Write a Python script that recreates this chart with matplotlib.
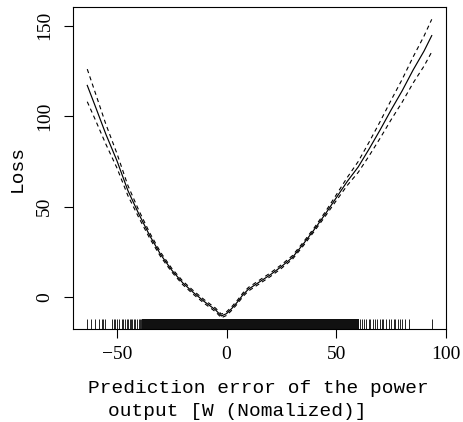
import numpy as np
import matplotlib
matplotlib.use("Agg")
import matplotlib.pyplot as plt

# -------------------------------------------------------------------
# smooth term: fit and half band width (2 se)
# -------------------------------------------------------------------
err = [-63.5, -60, -55, -50, -45, -40, -35, -30, -25, -20, -15, -10, -5, -2.4,
       0, 2.5, 5, 7.5, 10, 15, 20, 25, 30, 35, 40, 45, 50, 55, 60, 65, 70,
       75, 80, 85, 90, 93.5]
fit = [117, 106, 90, 75.5, 59, 46, 34, 23.5, 15, 8, 2.5, -2.5, -7, -10.3,
       -9, -6, -2.5, 1.5, 4.5, 8.5, 12.5, 17, 22, 29.5, 37.5, 46, 55, 64,
       72, 82, 92.5, 103.5, 114, 125.5, 136, 144.5]
band = [9, 7.5, 5.5, 4, 2.8, 2, 1.5, 1.2, 1.0, 1.0, 1.0, 1.0, 1.0, 1.0,
        1.0, 1.0, 1.0, 1.0, 1.0, 1.0, 1.0, 1.0, 1.0, 1.0, 1.0, 1.2, 1.6, 2.2,
        3, 3.8, 4.6, 5.4, 6.3, 7.2, 8.3, 9.0]

# rug: single ticks in the tails, solid block where the data is dense
rug_sparse = [-63.6, -61.8, -60, -58.1, -57, -56.1, -55.5, -52.4, -51.5, -50.9,
              -50, -49, -47.8, -47.1, -46.5, -45.6, -45.0, -44.2, -43.7, -42.9,
              -42.1, -41.6, -40.8, -40.1, -39.5, -38.8,
              60.9, 61.7, 62.7, 63.6, 64.7, 65.5, 66.7, 67.7, 68.5, 69.7, 70.8,
              71.5, 72.7, 73.8, 74.8, 76.1, 76.8, 77.9, 79.1, 80, 81.4, 83.3, 93.5]
rug_dense = (-38.6, 60.3)

xticks = [-50, 0, 50, 100]
yticks = [0, 50, 100, 150]

err = np.array(err)
fit = np.array(fit)
band = np.array(band)

plt.rcParams['lines.scale_dashes'] = False

fig = plt.figure(figsize=(4.64, 4.22), dpi=100)
ax = fig.add_axes([73 / 464, 1 - 329 / 422, 373 / 464, 322 / 422])

ax.plot(err, fit, color='black', linewidth=0.85)
ax.plot(err, fit + band, color='black', linewidth=0.8, dashes=(3, 2.5))
ax.plot(err, fit - band, color='black', linewidth=0.8, dashes=(3, 2.5))

# rug along the bottom (3% of the panel height, like R's rug())
ax.vlines(rug_sparse, 0, 0.03, transform=ax.get_xaxis_transform(),
          color='black', linewidth=0.6)
ax.axvspan(rug_dense[0], rug_dense[1], ymin=0, ymax=0.03, color='#111111',
           linewidth=0)

ax.set_xlim(-70, 100)
ax.set_ylim(-17.5, 160.3)
ax.set_xticks(xticks)
ax.set_yticks(yticks)

tick_font = {'family': 'Liberation Serif', 'size': 14}
ax.set_xticklabels([str(t).replace('-', '\u2212') for t in xticks], fontdict=tick_font)
ax.set_yticklabels([str(t) for t in yticks], fontdict=tick_font,
                   rotation=90, va='center')
ax.tick_params(direction='out', length=6.5, width=0.8, pad=6)
ax.tick_params(axis='y', pad=8)

for s in ax.spines.values():
    s.set_linewidth(0.8)

label_font = {'family': 'Liberation Mono', 'size': 14}
ax.set_ylabel('Loss', fontdict=label_font, labelpad=7)
fig.text(258.5 / 464, 1 - 393 / 422, 'Prediction error of the power',
         ha='center', va='baseline', fontdict=label_font)
fig.text(237.5 / 464, 1 - 416 / 422, 'output [W (Nomalized)]',
         ha='center', va='baseline', fontdict=label_font)

fig.savefig('out.png', dpi=100)
